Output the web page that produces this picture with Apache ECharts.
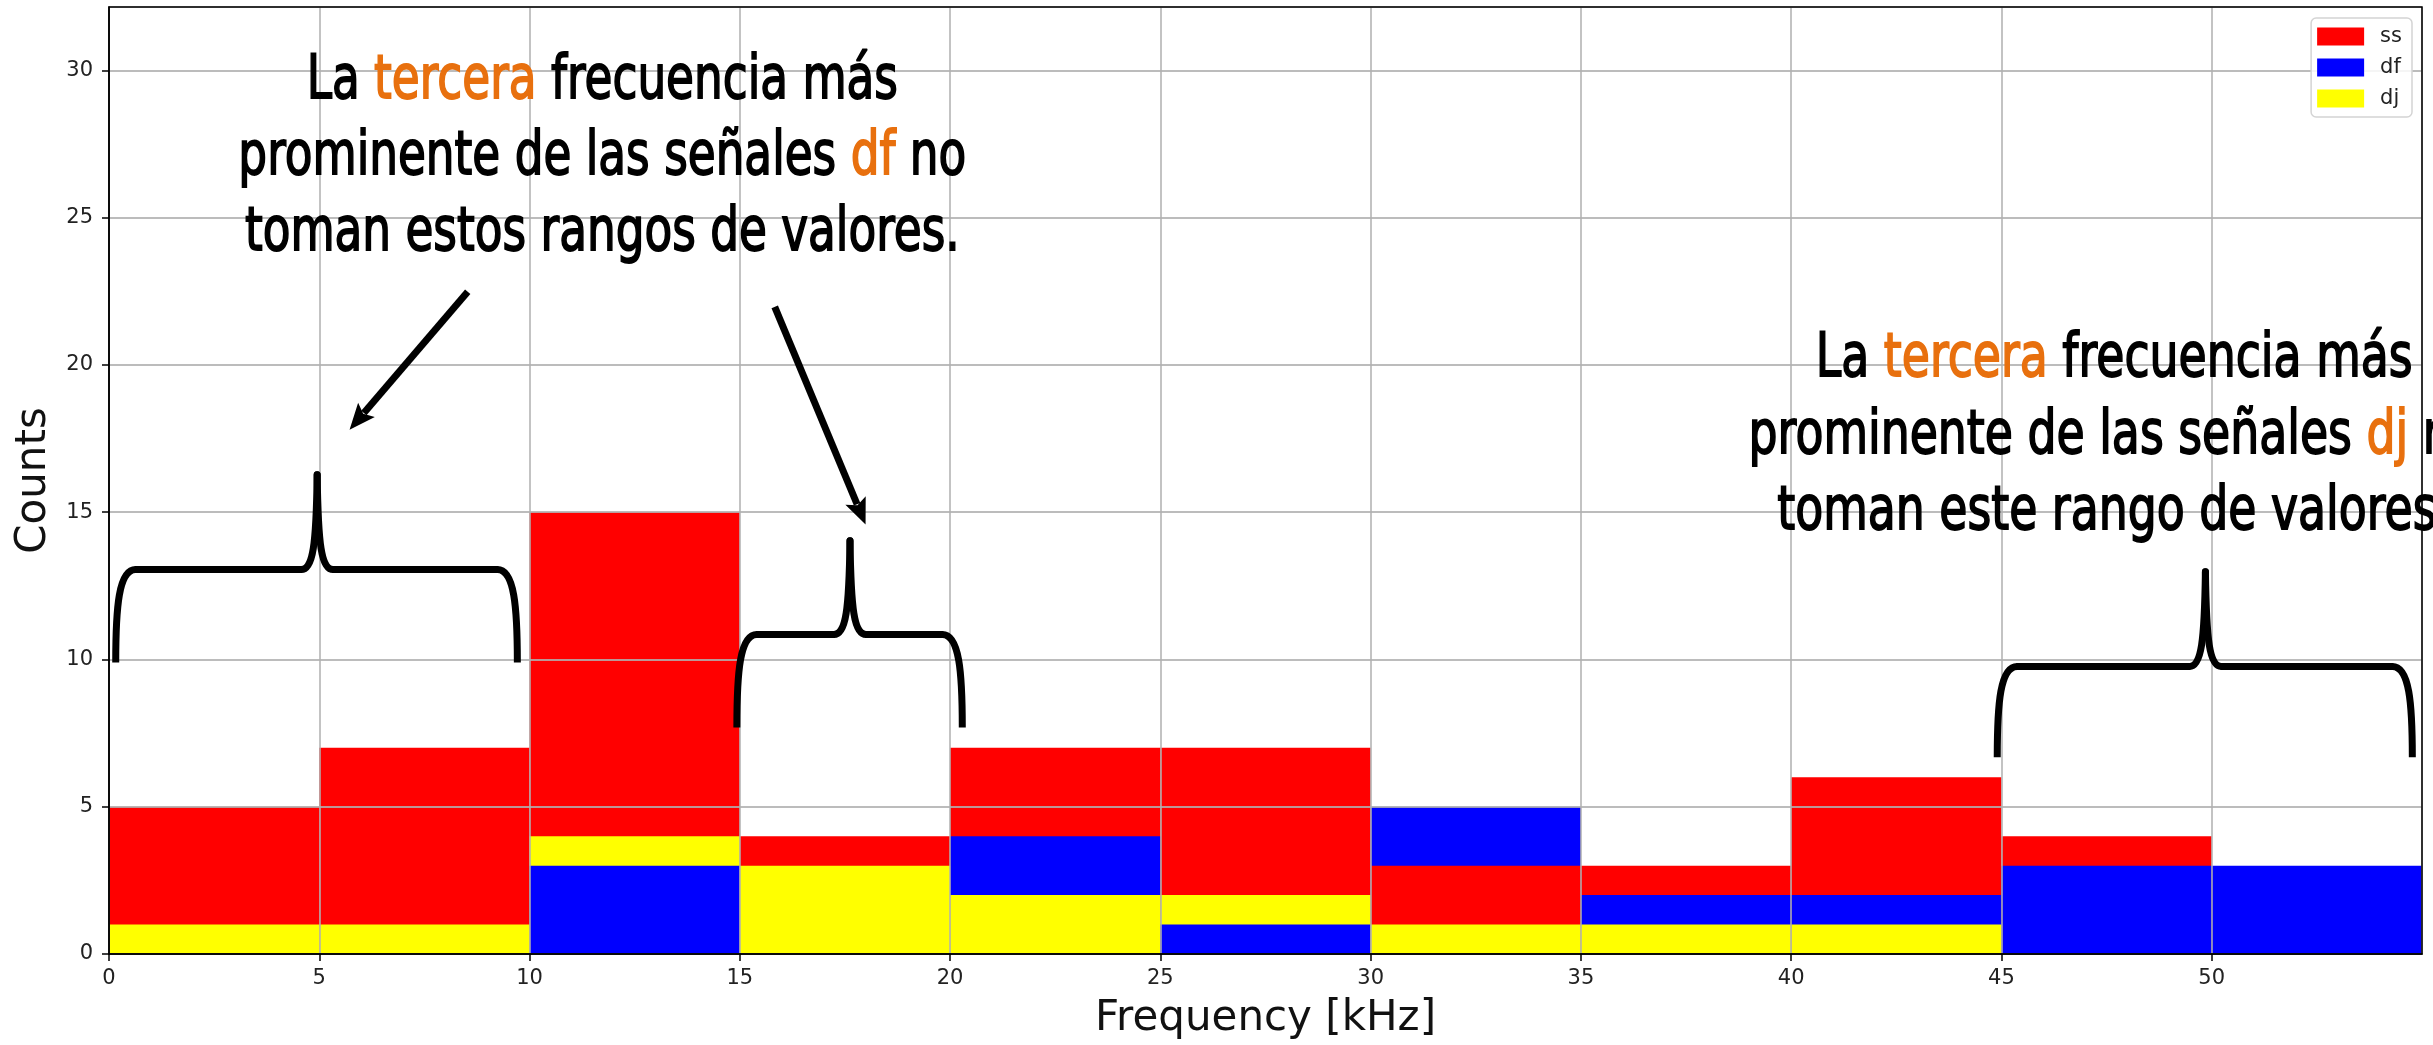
<!DOCTYPE html>
<html>
<head>
<meta charset="utf-8">
<title>Third prominent frequency histogram</title>
<script src="https://cdn.jsdelivr.net/npm/echarts@6/dist/echarts.min.js"></script>
<style>
  html, body { margin: 0; padding: 0; background: #fff; }
  #chart { width: 2433px; height: 1045px; }
</style>
</head>
<body>
<div id="chart"></div>
<script>
// ── data (counts per 5 kHz bin) ──
const binEdges = [0, 5, 10, 15, 20, 25, 30, 35, 40, 45, 50, 55];
const ssCounts = [5, 7, 15, 4, 7, 7, 3, 3, 6, 4, 0];
const dfCounts = [0, 0, 3, 0, 4, 1, 5, 2, 2, 3, 3];
const djCounts = [1, 1, 4, 3, 2, 2, 1, 1, 1, 0, 0];
const groupNames = ['ss', 'df', 'dj'];
const groupColors = ['#ff0000', '#0000ff', '#ffff00'];
const xTickStep = 5;
const yTickStep = 5;

// ── annotations, in data coords (kHz, counts) ──
const ORANGE = '#e8700e';
const annFontSize = 60;
const annFont = annFontSize + 'px "DejaVu Sans"';
const notes = [
  { cx: 11.73, lines: [
      { y: 28.97, parts: [['La ', 'k'], ['tercera', 'o'], [' frecuencia más', 'k']] },
      { y: 26.39, parts: [['prominente de las señales ', 'k'], ['df', 'o'], [' no', 'k']] },
      { y: 23.80, parts: [['toman estos rangos de valores.', 'k']] }
    ], widths: [598, 726, 710] },
  { cx: 47.68, lines: [
      { y: 19.53, parts: [['La ', 'k'], ['tercera', 'o'], [' frecuencia más', 'k']] },
      { y: 16.92, parts: [['prominente de las señales ', 'k'], ['dj', 'o'], [' no', 'k']] },
      { y: 14.34, parts: [['toman este rango de valores.', 'k']] }
    ], widths: [602, 726] }
];
const braces = [
  { x0: 0.16, x1: 9.71, xc: 4.95, yEnd: 9.9, yBar: 13.05, yTip: 16.27 },
  { x0: 14.93, x1: 20.29, xc: 17.62, yEnd: 7.69, yBar: 10.85, yTip: 14.03 },
  { x0: 44.9, x1: 54.77, xc: 49.85, yEnd: 6.68, yBar: 9.76, yTip: 12.98 }
];
const arrows = [
  { from: [8.53, 22.48], to: [5.72, 17.80] },
  { from: [15.83, 21.97], to: [17.99, 14.58] }
];

function binData(counts) {
  return counts.map((c, i) => [binEdges[i], binEdges[i + 1], c]);
}

// overlapping (not stacked) histogram bars; the smaller count sits in front
function binRect(color) {
  return function (params, api) {
    const v = api.value(2);
    if (!v) return null;
    const a = api.coord([api.value(0), 0]);
    const b = api.coord([api.value(1), v]);
    return {
      type: 'rect',
      z2: 100 - v,
      shape: { x: a[0], y: b[1], width: b[0] - a[0], height: a[1] - b[1] },
      style: { fill: color }
    };
  };
}

const chart = echarts.init(document.getElementById('chart'));
const countsByGroup = [ssCounts, dfCounts, djCounts];

chart.setOption({
  backgroundColor: '#fff',
  animation: false,
  grid: { left: 109, right: 11, top: 7, bottom: 90, show: true, z: 10,
    borderColor: '#000', borderWidth: 1.5, backgroundColor: 'transparent' },
  legend: {
    data: groupNames, orient: 'vertical', right: 21, top: 18, z: 20,
    icon: 'rect', itemWidth: 47, itemHeight: 18, itemGap: 10,
    padding: [8, 10, 8, 6],
    borderColor: '#d4d4d4', borderWidth: 1.5, borderRadius: 5,
    backgroundColor: 'rgba(255,255,255,0.85)',
    textStyle: { fontFamily: 'DejaVu Sans', fontSize: 21, color: '#222', padding: [0, 0, 0, 11], lineHeight: 18 }
  },
  xAxis: {
    type: 'value', min: 0, max: 55, interval: xTickStep, z: 5,
    name: 'Frequency [kHz]', nameLocation: 'middle', nameGap: 44,
    nameTextStyle: { fontFamily: 'DejaVu Sans', fontSize: 42, color: '#111' },
    axisLine: { show: true, lineStyle: { color: '#000', width: 1.5 } },
    axisTick: { show: true, length: 7, lineStyle: { color: '#000', width: 1.5 } },
    axisLabel: { fontFamily: 'DejaVu Sans', fontSize: 21, color: '#222', margin: 14, showMaxLabel: false },
    splitLine: { show: true, lineStyle: { color: 'rgba(176,176,176,0.85)', width: 1.8 } }
  },
  yAxis: {
    type: 'value', min: 0, max: 32.15, interval: yTickStep, z: 5,
    name: 'Counts', nameLocation: 'middle', nameGap: 54,
    nameTextStyle: { fontFamily: 'DejaVu Sans', fontSize: 42, color: '#111' },
    axisLine: { show: true, lineStyle: { color: '#000', width: 1.5 } },
    axisTick: { show: true, length: 7, lineStyle: { color: '#000', width: 1.5 } },
    axisLabel: { fontFamily: 'DejaVu Sans', fontSize: 21, color: '#222', margin: 16, showMaxLabel: false },
    splitLine: { show: true, lineStyle: { color: 'rgba(176,176,176,0.85)', width: 1.8 } }
  },
  series: groupNames.map((name, g) => ({
    name: name,
    type: 'custom',
    renderItem: binRect(groupColors[g]),
    itemStyle: { color: groupColors[g] },
    encode: { x: [0, 1], y: 2 },
    data: binData(countsByGroup[g])
  }))
});

// ── overlay: texts, braces, arrows ──
const px = (x, y) => chart.convertToPixel({ gridIndex: 0 }, [x, y]);
const ctx = document.createElement('canvas').getContext('2d');
ctx.font = annFont;

const flatInk = { stroke: '#000', lineWidth: 7, lineCap: 'butt', fill: null };
const roundInk = { stroke: '#000', lineWidth: 7, lineCap: 'round', fill: null };

function curve(st, x1, y1, c1x, c1y, c2x, c2y, x2, y2) {
  return { type: 'bezierCurve', z: 100, style: st,
    shape: { x1: x1, y1: y1, cpx1: c1x, cpy1: c1y, cpx2: c2x, cpy2: c2y, x2: x2, y2: y2 } };
}
function seg(x1, y1, x2, y2) {
  return { type: 'line', z: 100, style: flatInk, shape: { x1: x1, y1: y1, x2: x2, y2: y2 } };
}

function braceParts(b) {
  const x0 = px(b.x0, 0)[0], x1 = px(b.x1, 0)[0], xc = px(b.xc, 0)[0];
  const yE = px(0, b.yEnd)[1], yB = px(0, b.yBar)[1], yT = px(0, b.yTip)[1];
  const h = yE - yB;
  return [
    curve(flatInk, x0, yE, x0, yB + h * 0.4, x0 + 3, yB, x0 + 20, yB),
    seg(x0 + 19, yB, xc - 15, yB),
    curve(roundInk, xc - 16, yB, xc - 4, yB, xc - 1, yB - 25, xc, yT),
    curve(roundInk, xc, yT, xc + 1, yB - 25, xc + 4, yB, xc + 16, yB),
    seg(xc + 15, yB, x1 - 19, yB),
    curve(flatInk, x1 - 20, yB, x1 - 3, yB, x1, yB + h * 0.4, x1, yE)
  ];
}

const graphics = [];
const rich = {
  k: { fill: '#000', font: annFont, stroke: '#000', lineWidth: 1.8 },
  o: { fill: ORANGE, font: annFont, stroke: ORANGE, lineWidth: 1.8 }
};

notes.forEach(n => {
  let target = 0, measured = 0;
  n.widths.forEach((w, i) => {
    target += w;
    measured += ctx.measureText(n.lines[i].parts.map(p => p[0]).join('')).width;
  });
  const s = target / measured;
  const cx = px(n.cx, 0)[0];
  graphics.push({
    type: 'group', x: cx, y: 0, scaleX: s, z: 100,
    children: n.lines.map(l => ({
      type: 'text', x: 0, y: px(0, l.y)[1] - annFontSize * 0.31, z: 100,
      style: {
        text: l.parts.map(p => '{' + p[1] + '|' + p[0] + '}').join(''),
        rich: rich, font: annFont, fill: '#000',
        align: 'center', verticalAlign: 'middle'
      }
    }))
  });
});

braces.forEach(b => { braceParts(b).forEach(p => graphics.push(p)); });

arrows.forEach(a => {
  const p0 = px(a.from[0], a.from[1]), p1 = px(a.to[0], a.to[1]);
  const dx = p1[0] - p0[0], dy = p1[1] - p0[1];
  const len = Math.sqrt(dx * dx + dy * dy);
  const ux = dx / len, uy = dy / len;
  const head = 26, half = 11;
  const bx = p1[0] - ux * head, by = p1[1] - uy * head;
  graphics.push({
    type: 'line', z: 100,
    shape: { x1: p0[0], y1: p0[1], x2: bx + ux * 4, y2: by + uy * 4 },
    style: { stroke: '#000', lineWidth: 7 }
  });
  graphics.push({
    type: 'polygon', z: 100,
    shape: { points: [[p1[0], p1[1]], [bx - uy * half, by + ux * half], [bx + ux * 5, by + uy * 5], [bx + uy * half, by - ux * half]] },
    style: { fill: '#000' }
  });
});

chart.setOption({ graphic: graphics });
</script>
</body>
</html>
